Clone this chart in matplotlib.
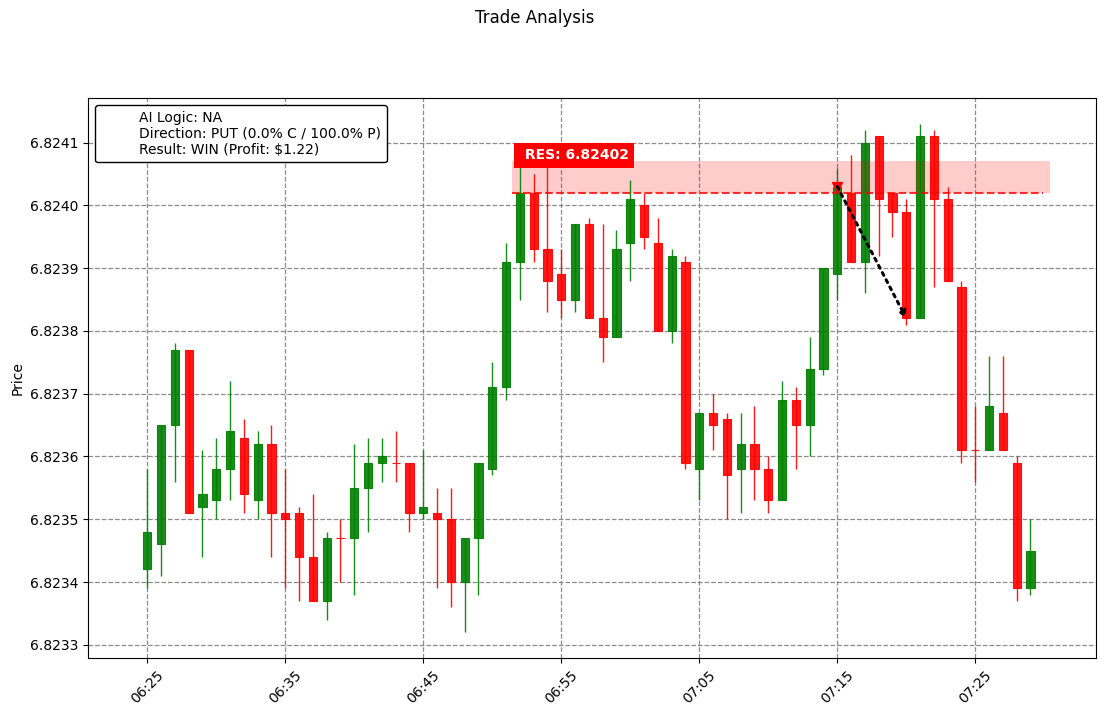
import matplotlib
matplotlib.use('Agg')
import matplotlib.pyplot as plt
import matplotlib.dates as mdates
from matplotlib.ticker import FormatStrFormatter, MultipleLocator
import pandas as pd

# 1-minute candles starting at 06:25
start_time = '2024-01-01 06:25'
opens = [6.82342, 6.82346, 6.82365, 6.82377, 6.82352, 6.82353, 6.82358, 6.82363, 6.82353, 6.82362,
         6.82351, 6.82351, 6.82344, 6.82337, 6.82347, 6.82347, 6.82355, 6.82359, 6.82359, 6.82359,
         6.82351, 6.82351, 6.82350, 6.82340, 6.82347, 6.82358, 6.82371, 6.82391, 6.82402, 6.82393,
         6.82389, 6.82385, 6.82397, 6.82382, 6.82379, 6.82394, 6.82400, 6.82394, 6.82380, 6.82391,
         6.82358, 6.82367, 6.82366, 6.82358, 6.82362, 6.82358, 6.82353, 6.82369, 6.82365, 6.82374,
         6.82389, 6.82402, 6.82391, 6.82411, 6.82402, 6.82399, 6.82382, 6.82411, 6.82401, 6.82387,
         6.82361, 6.82361, 6.82367, 6.82359, 6.82339]
highs = [6.82358, 6.82365, 6.82378, 6.82377, 6.82361, 6.82363, 6.82372, 6.82366, 6.82364, 6.82365,
         6.82358, 6.82352, 6.82354, 6.82348, 6.82350, 6.82362, 6.82363, 6.82363, 6.82364, 6.82359,
         6.82361, 6.82355, 6.82355, 6.82347, 6.82359, 6.82375, 6.82394, 6.82407, 6.82405, 6.82409,
         6.82393, 6.82397, 6.82398, 6.82397, 6.82396, 6.82404, 6.82402, 6.82398, 6.82393, 6.82392,
         6.82367, 6.82370, 6.82367, 6.82367, 6.82368, 6.82360, 6.82372, 6.82371, 6.82379, 6.82390,
         6.82406, 6.82408, 6.82412, 6.82411, 6.82402, 6.82401, 6.82413, 6.82412, 6.82403, 6.82388,
         6.82368, 6.82376, 6.82376, 6.82360, 6.82350]
lows = [6.82339, 6.82341, 6.82356, 6.82351, 6.82344, 6.82350, 6.82353, 6.82351, 6.82350, 6.82344,
        6.82339, 6.82337, 6.82337, 6.82334, 6.82340, 6.82338, 6.82348, 6.82356, 6.82356, 6.82348,
        6.82350, 6.82339, 6.82336, 6.82332, 6.82338, 6.82357, 6.82369, 6.82385, 6.82391, 6.82383,
        6.82382, 6.82383, 6.82382, 6.82375, 6.82379, 6.82388, 6.82393, 6.82380, 6.82378, 6.82358,
        6.82353, 6.82361, 6.82350, 6.82351, 6.82353, 6.82351, 6.82353, 6.82358, 6.82360, 6.82373,
        6.82385, 6.82391, 6.82386, 6.82392, 6.82395, 6.82381, 6.82382, 6.82387, 6.82388, 6.82359,
        6.82356, 6.82361, 6.82361, 6.82337, 6.82338]
closes = [6.82348, 6.82365, 6.82377, 6.82351, 6.82354, 6.82358, 6.82364, 6.82354, 6.82362, 6.82351,
          6.82350, 6.82344, 6.82337, 6.82347, 6.82347, 6.82355, 6.82359, 6.82360, 6.82359, 6.82351,
          6.82352, 6.82350, 6.82340, 6.82347, 6.82359, 6.82371, 6.82391, 6.82402, 6.82393, 6.82388,
          6.82385, 6.82397, 6.82382, 6.82379, 6.82393, 6.82401, 6.82395, 6.82380, 6.82392, 6.82359,
          6.82367, 6.82365, 6.82357, 6.82362, 6.82358, 6.82353, 6.82369, 6.82365, 6.82374, 6.82390,
          6.82403, 6.82391, 6.82410, 6.82401, 6.82399, 6.82382, 6.82411, 6.82401, 6.82388, 6.82361,
          6.82361, 6.82368, 6.82361, 6.82339, 6.82345]

res_level = 6.82402
res_top = 6.82407
entry_idx, entry_price = 50, 6.82403
exit_idx, exit_price = 55, 6.82382
info_lines = ['AI Logic: NA',
              'Direction: PUT (0.0% C / 100.0% P)',
              'Result: WIN (Profit: $1.22)']

times = pd.date_range(start_time, periods=len(opens), freq='1min')
x = mdates.date2num(times.to_pydatetime())
minute = 1.0 / 1440

fig = plt.figure(figsize=(11.05, 7.16), dpi=100)
ax = fig.add_axes([0.0796, 0.081, 0.9123, 0.7821])
fig.suptitle('Trade Analysis', fontsize=12, x=0.484, y=0.987)

green = (0.0, 0.502, 0.0, 0.9)
red = (1.0, 0.0, 0.0, 0.9)
for xi, o, h, l, c in zip(x, opens, highs, lows, closes):
    col = green if c > o else red
    ax.vlines(xi, l, h, color=col, linewidth=1, zorder=3)
    ax.bar(xi, c - o, bottom=o, width=0.6 * minute, color=col,
           edgecolor=col, linewidth=0.8, zorder=2)

# resistance zone
band_x0 = x[0] + 26.43 * minute
band_x1 = x[0] + 65.4 * minute
line_x1 = x[0] + 64.9 * minute
ax.fill_between([band_x0, band_x1], res_level, res_top, color='red', alpha=0.2,
                linewidth=0, zorder=2.5)
ax.plot([band_x0, line_x1], [res_level, res_level], color='red', linestyle='--',
        linewidth=1.5, alpha=0.8, zorder=2.6)
ax.text(x[27], 6.82408, ' RES: 6.82402', color='white', fontweight='bold', fontsize=10,
        va='center', ha='left', zorder=5,
        bbox=dict(boxstyle='square,pad=0.4', facecolor='red', edgecolor='none'))

# trade path
ax.plot(x[entry_idx], entry_price, marker='v', color='red', markersize=7, zorder=4)
ax.annotate('', xy=(x[exit_idx], exit_price), xytext=(x[entry_idx], entry_price),
            arrowprops=dict(arrowstyle='->', color='black', linestyle=':', lw=2.2,
                            mutation_scale=10, shrinkA=0, shrinkB=0), zorder=4)

ax.plot([], [], ' ', label='\n'.join(info_lines))
leg = ax.legend(loc='upper left', fontsize=10, framealpha=1, edgecolor='black')

ax.set_xlim(x[0] - 4.3 * minute, x[0] + 68.75 * minute)
ax.set_ylim(6.823279, 6.824171)
ax.yaxis.set_major_locator(MultipleLocator(0.0001))
ax.yaxis.set_major_formatter(FormatStrFormatter('%.4f'))
ax.xaxis.set_major_locator(mdates.MinuteLocator(byminute=range(5, 60, 10)))
ax.xaxis.set_major_formatter(mdates.DateFormatter('%H:%M'))
plt.setp(ax.get_xticklabels(), rotation=45)
ax.set_ylabel('Price')
ax.grid(True, color='gray', linestyle='--', linewidth=0.9, alpha=0.9)
ax.set_axisbelow(True)

fig.savefig('out.png', dpi=100)
